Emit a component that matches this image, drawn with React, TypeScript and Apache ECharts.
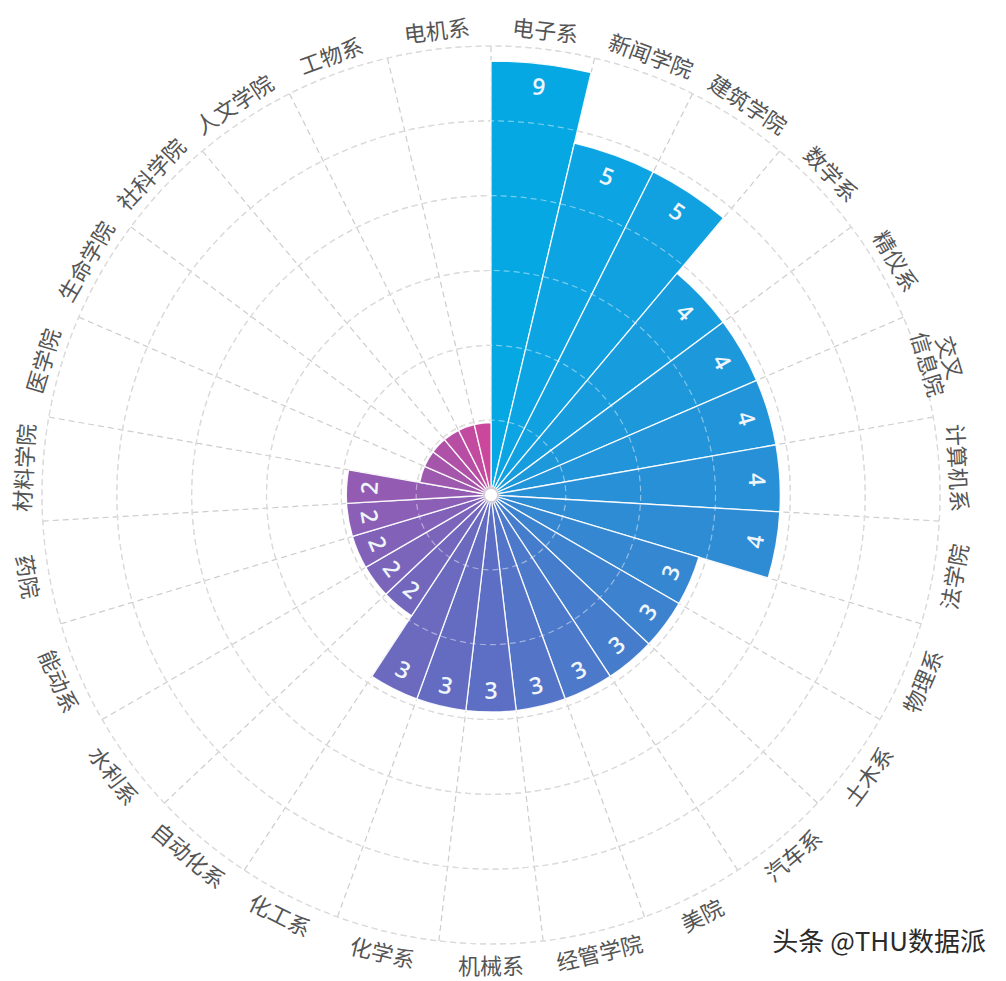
import { useEffect, useRef } from "react";
import * as echarts from "echarts";

// Departments clockwise from 12 o'clock, and the count shown on each bar.
const departments = [
  "电子系", "新闻学院", "建筑学院", "数学系", "精仪系", "交叉\n信息院", "计算机系", "法学院", "物理系",
  "土木系", "汽车系", "美院", "经管学院", "机械系", "化学系", "化工系", "自动化系", "水利系",
  "能动系", "药院", "材料学院", "医学院", "生命学院", "社科学院", "人文学院", "工物系", "电机系",
];
const counts = [9, 5, 5, 4, 4, 4, 4, 4, 3, 3, 3, 3, 3, 3, 3, 3, 2, 2, 2, 2, 2, 1, 1, 1, 1, 1, 1];

// The radial axis stops at 6; the 9 bar is cut at the rim.
const RADIUS_MAX = 6;
// Bars this short carry no number in the original.
const MIN_LABELLED = 2;
const gradientStops = ["#06a8e4", "#2a8ed6", "#5c6fc4", "#8e5eb4", "#cb479b"];

const CENTER = [491, 495];
const LABEL_FONT = '"Noto Sans CJK SC", "Noto Sans", sans-serif';

const barColor = (i: number) => echarts.color.lerp(i / (counts.length - 1), gradientStops) as string;

/** Tangential rotation, flipped on the lower half so text stays readable. */
function tangentRotation(dx: number, dy: number) {
  let deg = (Math.atan2(dx, -dy) * 180) / Math.PI;
  if (deg < 0) deg += 360;
  const r = deg > 90 && deg < 270 ? 180 - deg : -deg;
  return (r * Math.PI) / 180;
}

/** Point `offset` px beyond (positive) or inside (negative) a polar point, with rotation. */
function along(api: any, radius: number, idx: number, offset: number) {
  const c = api.coord([0, idx]);
  const p = api.coord([radius, idx]);
  const dx = p[0] - c[0];
  const dy = p[1] - c[1];
  const len = Math.hypot(dx, dy) || 1;
  return {
    x: p[0] + (dx / len) * offset,
    y: p[1] + (dy / len) * offset,
    rotation: tangentRotation(dx, dy),
  };
}

const hiddenAxis = {
  axisLine: { show: false },
  axisTick: { show: false },
  axisLabel: { show: false },
  splitLine: { show: false },
};

function buildOption() {
  const spokeDash = { color: "#cdcdcd", width: 1.2, type: [6, 4] as number[] };
  const ringDash = { color: "#bdbdbd", width: 1.2, type: [6, 4] as number[] };
  return {
    animation: false,
    backgroundColor: "#ffffff",
    polar: [
      { center: CENTER, radius: [0, 449] }, // background grid + department labels
      { center: CENTER, radius: [0, 434] }, // bars
      { center: CENTER, radius: [0, 449] }, // light rings drawn over the bars
    ],
    angleAxis: [
      {
        polarIndex: 0, type: "category", data: departments, startAngle: 90, clockwise: true, z: 0,
        ...hiddenAxis,
        splitLine: { show: true, lineStyle: spokeDash },
      },
      { polarIndex: 1, type: "category", data: departments, startAngle: 90, clockwise: true, ...hiddenAxis },
      { polarIndex: 2, type: "category", data: departments, startAngle: 90, clockwise: true, ...hiddenAxis },
    ],
    radiusAxis: [
      {
        polarIndex: 0, type: "value", min: 0, max: RADIUS_MAX, interval: 1, z: 0,
        ...hiddenAxis,
        splitLine: { show: true, lineStyle: ringDash },
      },
      { polarIndex: 1, type: "value", min: 0, max: RADIUS_MAX, interval: 1, ...hiddenAxis },
      {
        polarIndex: 2, type: "value", min: 0, max: RADIUS_MAX, interval: 1, z: 5,
        ...hiddenAxis,
        splitLine: { show: true, lineStyle: { color: "rgba(255,255,255,0.45)", width: 1.2, type: [6, 4] } },
      },
    ],
    series: [
      {
        type: "bar",
        coordinateSystem: "polar",
        polarIndex: 1,
        barCategoryGap: "0%",
        clip: true,
        z: 2,
        itemStyle: { borderColor: "rgba(255,255,255,0.92)", borderWidth: 1.3 },
        data: counts.map((v, i) => ({ value: v, itemStyle: { color: barColor(i) } })),
      },
      {
        // value labels just inside each bar's end
        type: "custom",
        coordinateSystem: "polar",
        polarIndex: 1,
        silent: true,
        z: 10,
        data: counts.map((v, i) => [Math.min(v, RADIUS_MAX), i, v]),
        renderItem: (_params: any, api: any) => {
          const v = api.value(2);
          if (v < MIN_LABELLED) return null;
          const p = along(api, api.value(0), api.value(1), -22);
          return {
            type: "text",
            x: p.x,
            y: p.y,
            rotation: p.rotation,
            style: {
              text: String(v),
              fill: "#eef6fb",
              fontSize: 23,
              fontWeight: 600,
              fontFamily: '"Open Sans", sans-serif',
              align: "center",
              verticalAlign: "middle",
            },
          };
        },
      },
      {
        // department names around the rim
        type: "custom",
        coordinateSystem: "polar",
        polarIndex: 0,
        silent: true,
        z: 10,
        data: departments.map((_d, i) => [RADIUS_MAX, i]),
        renderItem: (_params: any, api: any) => {
          const idx = api.value(1);
          const p = along(api, api.value(0), idx, 20);
          return {
            type: "text",
            x: p.x,
            y: p.y,
            rotation: p.rotation,
            style: {
              text: departments[idx],
              fill: "#555555",
              fontSize: 22,
              fontFamily: LABEL_FONT,
              align: "center",
              verticalAlign: "middle",
              lineHeight: 23,
            },
          };
        },
      },
    ],
    graphic: [
      {
        type: "circle",
        z: 100,
        shape: { cx: CENTER[0], cy: CENTER[1], r: 7 },
        style: { fill: "#ffffff", stroke: "#d6cfd9", lineWidth: 2 },
      },
      {
        type: "text",
        z: 100,
        right: 20,
        top: 926,
        style: { text: "头条 @THU数据派", fill: "#2a2a2a", fontSize: 26, fontFamily: LABEL_FONT },
      },
    ],
  };
}

export default function App() {
  const ref = useRef<HTMLDivElement>(null);
  useEffect(() => {
    document.body.style.margin = "0";
    if (!ref.current) return;
    const chart = echarts.init(ref.current, undefined, { renderer: "svg" });
    chart.setOption(buildOption() as any);
    return () => chart.dispose();
  }, []);
  return <div ref={ref} style={{ width: 1006, height: 981, background: "#fff" }} />;
}
